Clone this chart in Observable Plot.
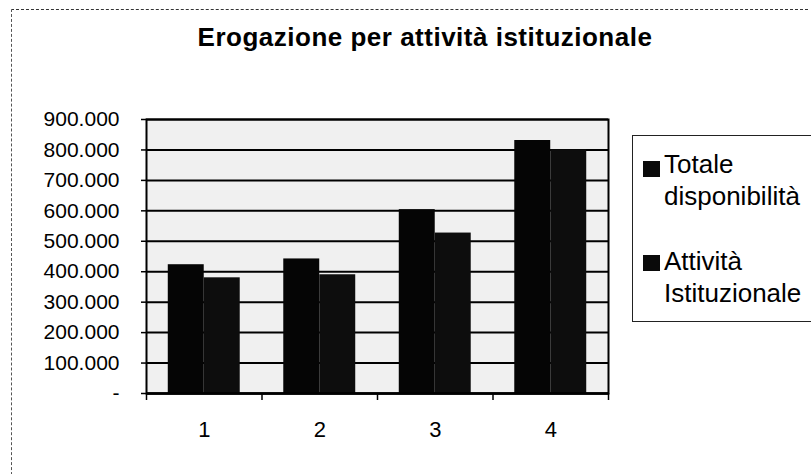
<!DOCTYPE html>
<html>
<head>
<meta charset="utf-8">
<script src="https://cdn.jsdelivr.net/npm/d3@7"></script>
<script src="https://cdn.jsdelivr.net/npm/@observablehq/plot@0.6"></script>
<style>
  html, body { margin: 0; padding: 0; background: #fff; }
  #wrap { position: relative; width: 811px; height: 474px; overflow: hidden; font-family: "Liberation Sans", Arial, sans-serif; color: #000; }
  #wrap svg { position: absolute; left: 0; top: 0; }
  #border { position: absolute; left: 11px; top: 9px; width: 796px; height: 480px; border-top: 1.5px dashed #333; border-left: 1.5px dashed #555; }
  #title { position: absolute; left: 0; width: 850px; top: 22px; text-align: center; font-size: 26px; font-weight: bold; letter-spacing: 0.5px; }
  #legend { position: absolute; left: 632px; top: 135px; width: 200px; height: 187px; border: 1.5px solid #222; box-sizing: border-box; font-size: 26px; line-height: 32px; }
  .item { position: absolute; left: 31px; white-space: nowrap; }
  .sw { position: absolute; left: 9.5px; width: 17px; height: 16px; background: #0a0a0a; }
</style>
</head>
<body>
<div id="wrap">
  <div id="border"></div>
  <div id="title">Erogazione per attività istituzionale</div>
  <div id="chart"></div>
  <div id="legend"></div>
</div>
<script>
const categories = ["1", "2", "3", "4"];
const seriesNames = ["Totale disponibilità", "Attività Istituzionale"];
const legendLines = [["Totale", "disponibilità"], ["Attività", "Istituzionale"]];
const totale = [423000, 442000, 604000, 831000];
const attivita = [380000, 390000, 527000, 800000];
const yTicks = [0, 100000, 200000, 300000, 400000, 500000, 600000, 700000, 800000, 900000];
const yTickLabels = ["-", "100.000", "200.000", "300.000", "400.000", "500.000", "600.000", "700.000", "800.000", "900.000"];

const rowsA = categories.map((c, i) => ({cat: c, series: seriesNames[0], value: totale[i]}));
const rowsB = categories.map((c, i) => ({cat: c, series: seriesNames[1], value: attivita[i]}));

const chart = Plot.plot({
  width: 811,
  height: 474,
  marginLeft: 146,
  marginRight: 203,
  marginTop: 119,
  marginBottom: 81,
  style: {fontFamily: "'Liberation Sans', Arial, sans-serif", fontSize: "21px", background: "transparent", color: "black"},
  x: {type: "band", domain: categories, paddingInner: 0.377, paddingOuter: 0.1885, round: false},
  y: {domain: [0, 900000]},
  marks: [
    Plot.frame({fill: "#f0f0f0", stroke: "none"}),
    Plot.gridY(yTicks, {stroke: "black", strokeOpacity: 1, strokeWidth: 2}),
    Plot.barY(rowsA, {x: "cat", y: "value", fill: "#050505", insetRight: 36}),
    Plot.barY(rowsB, {x: "cat", y: "value", fill: "#0d0d0d", insetLeft: 36}),
    Plot.axisY(yTicks, {tickSize: 5, tickPadding: 22, strokeWidth: 1.5, fontSize: 21, label: null,
      tickFormat: d => yTickLabels[yTicks.indexOf(d)]}),
    Plot.axisX({tickSize: 0, tickPadding: 28, fontSize: 22, label: null}),
    Plot.ruleX(categories, {x: d => d, dx: 57.75, insetTop: 274, insetBottom: -7, stroke: "black", strokeWidth: 1.5}),
    Plot.ruleX(categories.slice(0, 1), {x: d => d, dx: -57.75, insetTop: 274, insetBottom: -7, stroke: "black", strokeWidth: 1.5}),
    Plot.ruleY([0], {stroke: "black", strokeWidth: 2.5}),
    Plot.frame({stroke: "black", strokeWidth: 2})
  ]
});
document.getElementById("chart").appendChild(chart);

const legend = document.getElementById("legend");
const textTops = [12, 109];
const swatchTops = [24.5, 118.5];
legendLines.forEach((lines, i) => {
  const sw = document.createElement("div");
  sw.className = "sw";
  sw.style.top = swatchTops[i] + "px";
  legend.appendChild(sw);
  const item = document.createElement("div");
  item.className = "item";
  item.style.top = textTops[i] + "px";
  item.innerHTML = `${lines[0]}<br>${lines[1]}`;
  legend.appendChild(item);
});
</script>
</body>
</html>
